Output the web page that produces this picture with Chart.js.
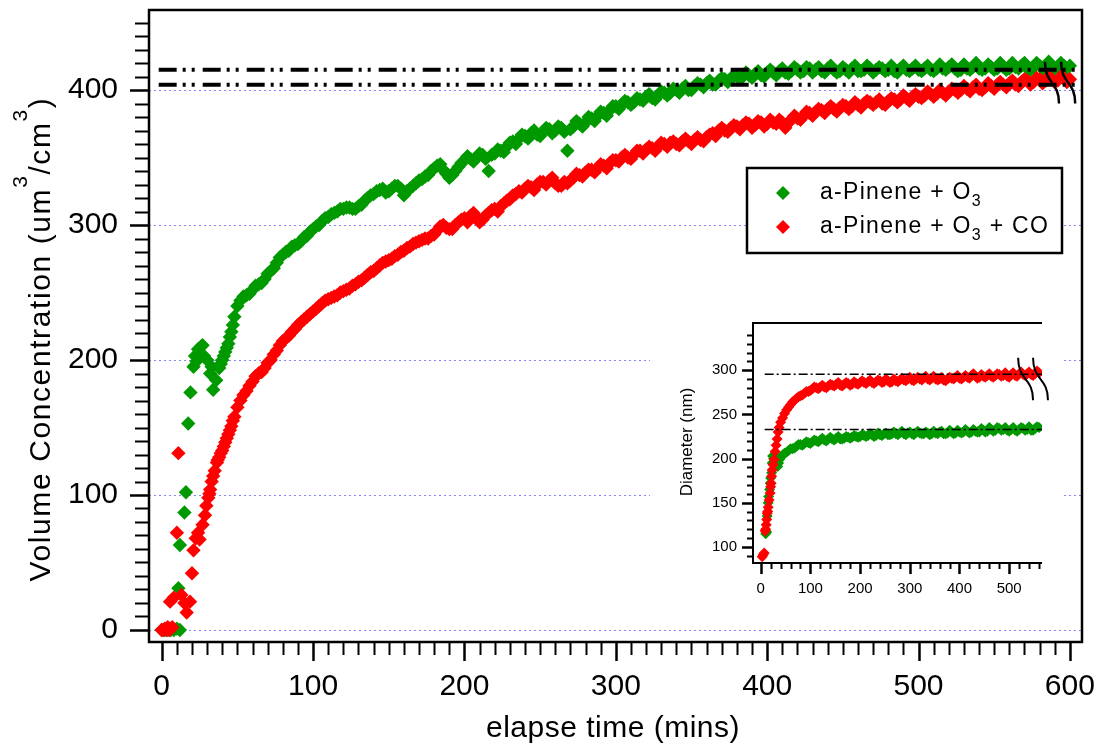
<!DOCTYPE html>
<html>
<head>
<meta charset="utf-8">
<title>Volume concentration vs elapse time</title>
<script src="https://cdn.jsdelivr.net/npm/chart.js@4.4.1/dist/chart.umd.min.js"></script>
<style>
  html, body { margin: 0; padding: 0; background: #fff; }
  #wrap { position: relative; width: 1100px; height: 746px; }
  #main { position: absolute; left: 0; top: 0; }
  #inset { position: absolute; left: 650px; top: 305px; background: #fff; }
</style>
</head>
<body>
<div id="wrap">
  <canvas id="main" width="1100" height="746"></canvas>
  <canvas id="inset" width="413" height="295"></canvas>
</div>
<script>
const FONT = '"Liberation Sans", Arial, sans-serif';
const GREEN = '#009900';
const RED = '#ff0000';

// ---- main plot : volume concentration (um3/cm3) vs elapse time (mins)
const xTickLabels = [0, 100, 200, 300, 400, 500, 600];
const yTickLabels = [0, 100, 200, 300, 400];
const plateaus = [415, 404];

// first minutes, irregular points
const greenEarlyT = [0, 2, 4, 6, 8, 10, 12, 11, 12, 15, 16, 17.5, 19, 21, 22, 23, 24, 25, 26, 27, 28, 30, 32, 33, 34, 36, 38, 39, 40, 41, 42, 43, 44, 45, 46, 47];
const greenEarlyV = [0, 0, 0, 0, 0, 1, 0, 31, 63, 87, 102, 153, 176, 195, 203, 199, 208, 205, 210, 211, 203, 200, 190, 195, 178, 185, 194, 197, 200, 203, 206, 209, 212, 217, 221, 226];
const redEarlyT = [0, 1, 2, 3, 4, 5, 6, 7, 5.5, 8, 10, 11, 13, 15, 16.5, 18.7, 20, 21, 22.5, 24, 25, 27, 28.6, 29.5, 30.8, 31.5, 32, 33, 34, 35, 36.5, 37, 38, 39, 40, 41, 42, 43, 44, 45, 46, 47];
const redEarlyV = [0, 0, 1, 0, 2, 0, 1, 2, 21, 24, 72, 131, 26, 20, 13, 21, 42, 59, 68, 72, 67, 78, 85, 92, 98, 101, 104, 110, 114, 118, 124, 126, 128, 131, 133, 136, 139, 142, 145, 148, 151, 155];

// rest of the run
const timeMain = [
  48, 52, 56, 60, 64, 68, 72, 76, 80, 84, 88, 92, 96, 100,
  104, 108, 112, 116, 120, 124, 128, 132, 136, 140, 144, 148, 152, 156, 160, 164, 168, 172, 176, 180, 184, 188, 192, 196, 200,
  204, 208, 212, 216, 220, 224, 228, 232, 236, 240, 244, 248, 252, 256, 260, 264, 268, 272, 276, 280, 284, 288, 292, 296, 300,
  304, 308, 312, 316, 320, 324, 328, 332, 336, 340, 344, 348, 352, 356, 360, 364, 368, 372, 376, 380, 384, 388, 392, 396, 400,
  404, 408, 412, 416, 420, 424, 428, 432, 436, 440, 444, 448, 452, 456, 460, 464, 468, 472, 476, 480, 484, 488, 492, 496, 500,
  504, 508, 512, 516, 520, 524, 528, 532, 536, 540, 544, 548, 552, 556, 560, 564, 568, 572, 576, 580, 584, 588, 592, 596, 600
];
const greenMain = [
  232, 244, 248, 252, 256, 260, 266, 272, 278, 281, 285, 288, 292, 297,
  300, 305, 308, 310, 312, 313, 312, 315, 320, 323, 326, 324, 327, 329, 322, 327, 331, 334, 337, 342, 345, 338, 337, 343, 348,
  349, 350, 352, 340, 353, 355, 358, 362, 364, 366, 368, 367, 369, 371, 370, 372, 355, 373, 375, 376, 379, 381, 383, 385, 388,
  389, 391, 391, 393, 395, 394, 396, 398, 398, 400, 401, 400, 403, 404, 405, 404, 407, 408, 408, 410, 410, 411, 412, 411, 413,
  413, 414, 413, 414, 415, 414, 416, 415, 414, 416, 415, 414, 415, 416, 414, 415, 416, 415, 416, 415, 414, 416, 415, 416, 415,
  416, 415, 416, 416, 417, 416, 415, 416, 417, 416, 416, 417, 416, 417, 416, 417, 418, 416, 417, 418, 417, 418, 417, 418, 418
];
const redMain = [
  158, 170, 177, 184, 190, 194, 200, 207, 214, 218, 223, 228, 232, 236,
  240, 244, 246, 248, 251, 253, 256, 259, 263, 266, 270, 273, 275, 278, 281, 284, 287, 289, 290, 293, 299, 298, 297, 302, 305,
  307, 305, 304, 309, 312, 314, 318, 322, 325, 327, 328, 330, 332, 333, 331, 329, 331, 335, 337, 339, 341, 342, 344, 346, 348,
  350, 350, 352, 355, 356, 357, 358, 360, 361, 360, 362, 362, 363, 363, 365, 368, 370, 370, 372, 373, 374, 375, 374, 376, 375,
  376, 378, 372, 378, 379, 381, 383, 384, 385, 386, 386, 387, 388, 388, 389, 390, 391, 391, 390, 392, 393, 393, 394, 395, 395,
  396, 397, 397, 398, 399, 400, 400, 401, 402, 401, 402, 403, 404, 404, 405, 404, 406, 407, 406, 408, 407, 408, 407, 409, 408
];
// extra samples in between (the instrument logged roughly every 2 min)
const timeMid = [50, 54, 58, 62, 66, 70, 74, 78, 82, 86, 90, 94, 98, 102, 106, 110, 114, 118, 122, 126, 130, 134, 138, 142, 146, 150, 154, 158, 162, 166, 170, 174, 178, 182, 186, 190, 194, 198];
const greenMid = [240, 247, 249, 255, 257, 264, 268, 276, 280, 284, 286, 291, 295, 299, 303, 306, 309, 312, 313, 312, 314, 318, 322, 325, 327, 325, 329, 327, 325, 329, 333, 336, 340, 344, 341, 335, 340, 346];
const redMid = [165, 174, 181, 188, 191, 198, 204, 211, 216, 221, 226, 230, 234, 238, 242, 245, 247, 250, 252, 255, 258, 261, 265, 268, 272, 274, 277, 280, 283, 286, 288, 290, 292, 296, 300, 297, 300, 304];
const timeLate = [
  202, 206, 210, 214, 218, 222, 226, 230, 234, 238, 242, 246, 250, 254, 258, 262, 266, 270, 274, 278, 282, 286, 290, 294, 298,
  302, 306, 310, 314, 318, 322, 326, 330, 334, 338, 342, 346, 350, 354, 358, 362, 366, 370, 374, 378, 382, 386, 390, 394, 398,
  402, 406, 410, 414, 418, 422, 426, 430, 434, 438, 442, 446, 450, 454, 458, 462, 466, 470, 474, 478, 482, 486, 490, 494, 498,
  502, 506, 510, 514, 518, 522, 526, 530, 534, 538, 542, 546, 550, 554, 558, 562, 566, 570, 574, 578, 582, 586, 590, 594, 598
];
const greenLate = [
  351, 347, 353, 349, 352, 356, 354, 361, 360, 367, 364, 370, 366, 372, 368, 373, 369, 371, 377, 373, 380, 377, 384, 381, 388,
  386, 392, 389, 394, 392, 397, 393, 399, 396, 401, 398, 403, 400, 405, 402, 407, 404, 409, 406, 411, 408, 413, 409, 414, 410,
  415, 411, 416, 412, 417, 413, 417, 413, 417, 413, 418, 413, 417, 413, 418, 414, 418, 413, 417, 414, 418, 413, 418, 414, 418,
  414, 418, 414, 419, 415, 419, 414, 419, 415, 420, 415, 419, 415, 420, 415, 420, 416, 420, 415, 420, 416, 421, 416, 420, 416
];
const redLate = [
  302, 309, 302, 307, 311, 310, 316, 319, 323, 324, 329, 326, 332, 330, 335, 329, 332, 333, 338, 336, 341, 339, 345, 342, 348,
  347, 352, 349, 355, 353, 358, 355, 361, 358, 362, 359, 364, 360, 365, 362, 367, 366, 372, 369, 374, 371, 376, 372, 377, 373,
  378, 375, 376, 376, 381, 378, 384, 381, 386, 383, 388, 384, 389, 386, 391, 387, 392, 389, 393, 389, 394, 391, 396, 392, 397,
  394, 399, 395, 400, 396, 401, 398, 403, 399, 404, 400, 405, 401, 406, 402, 407, 403, 408, 404, 409, 405, 410, 406, 410, 406
];

// ---- inset : diameter (nm) vs elapse time
const insetXTicks = [0, 100, 200, 300, 400, 500];
const insetYTicks = [100, 150, 200, 250, 300];
const insetPlateaus = [295.5, 233];

const insetGreenEarlyT = [10, 12, 13, 15, 16, 18, 19, 20, 22, 23, 24, 26, 28, 30, 32, 34, 36, 38];
const insetGreenEarlyV = [115, 117, 135, 150, 157, 165, 172, 178, 184, 195, 203, 200, 205, 198, 193, 191, 195, 199];
const insetRedEarlyT = [3, 5, 7, 9, 10, 11, 12, 13, 14, 15, 17, 19, 20, 21, 22, 23, 25, 27, 29, 31, 33, 35, 37];
const insetRedEarlyV = [89, 91, 93, 118, 120, 125, 131, 138, 140, 145, 153, 161, 168, 172, 180, 187, 193, 199, 208, 215, 222, 230, 235];

const timeInset = [
  40, 48, 56, 64, 72, 80, 88, 96, 104, 112,
  120, 128, 136, 144, 152, 160, 168, 176, 184, 192,
  200, 208, 216, 224, 232, 240, 248, 256, 264, 272,
  280, 288, 296, 304, 312, 320, 328, 336, 344, 352,
  360, 368, 376, 384, 392, 400, 408, 416, 424, 432,
  440, 448, 456, 464, 472, 480, 488, 496, 504, 512,
  520, 528, 536, 544, 552, 560
];
const insetGreen = [
  201, 206, 209, 211, 214, 216, 217, 218, 219, 220,
  221, 221, 222, 222, 223, 222, 223, 224, 224, 225,
  225, 226, 226, 227, 226, 227, 228, 227, 228, 228,
  229, 228, 229, 228, 229, 229, 228, 229, 228, 229,
  230, 228, 229, 230, 229, 230, 230, 231, 230, 231,
  230, 232, 231, 233, 232, 234, 233, 232, 233, 232,
  233, 234, 233, 232, 234, 235
];
const insetRed = [
  241, 251, 258, 264, 268, 271, 274, 276, 279, 280,
  281, 281, 282, 283, 284, 283, 284, 285, 284, 285,
  286, 286, 287, 286, 287, 288, 287, 288, 287, 288,
  289, 289, 290, 289, 290, 290, 291, 290, 291, 290,
  290, 289, 290, 291, 292, 291, 292, 292, 294, 293,
  292, 293, 294, 293, 294, 295, 294, 293, 295, 294,
  296, 295, 296, 295, 296, 297
];
const timeInsetMid = [
  44, 52, 60, 68, 76, 84, 92, 100, 108, 116, 124, 132, 140, 148, 156, 164, 172, 180, 188, 196,
  204, 212, 220, 228, 236, 244, 252, 260, 268, 276, 284, 292, 300, 308, 316, 324, 332, 340, 348, 356,
  364, 372, 380, 388, 396, 404, 412, 420, 428, 436, 444, 452, 460, 468, 476, 484, 492, 500, 508, 516,
  524, 532, 540, 548, 556
];
const insetGreenMid = [
  204, 207, 211, 212, 216, 215, 219, 217, 221, 219, 223, 220, 224, 221, 225, 222, 225, 223, 226, 224,
  227, 225, 228, 225, 229, 226, 229, 227, 230, 227, 231, 227, 230, 227, 231, 228, 230, 227, 231, 228,
  231, 228, 232, 228, 232, 229, 233, 229, 233, 230, 234, 230, 235, 231, 235, 232, 235, 231, 235, 231,
  235, 232, 236, 232, 236
];
const insetRedMid = [
  246, 255, 261, 266, 270, 272, 276, 277, 281, 279, 283, 280, 284, 282, 286, 282, 286, 283, 287, 284,
  288, 285, 289, 285, 289, 286, 290, 286, 290, 287, 291, 288, 292, 288, 292, 289, 293, 289, 293, 289,
  292, 288, 292, 290, 294, 290, 294, 291, 296, 291, 295, 292, 296, 292, 296, 293, 297, 292, 297, 293,
  298, 294, 298, 294, 299
];

const toPoints = (ts, vs) => ts.map((t, i) => ({ x: t, y: vs[i] }));

// little helpers for the hand drawn bits (ticks, breaks, rich text)
function tickMarks(ctx, scale, from, to, step, isMajor, majorLen, minorLen, edge, horizontal) {
  for (let v = from; v <= to + 1e-6; v += step) {
    const p = Math.round(scale.getPixelForValue(v)) + 0.5;
    const len = isMajor(v) ? majorLen : minorLen;
    ctx.lineWidth = isMajor(v) ? 2.5 : 2;
    ctx.beginPath();
    if (horizontal) { ctx.moveTo(p, edge); ctx.lineTo(p, edge + len); }
    else { ctx.moveTo(edge - len, p); ctx.lineTo(edge, p); }
    ctx.stroke();
  }
}

function breakMark(ctx, x0, y0, x1, y1) {
  const ym = (y0 + y1) / 2;
  ctx.beginPath();
  ctx.moveTo(x0, y0);
  ctx.bezierCurveTo(x0, ym + 2, x1, ym - 2, x1, y1);
  ctx.stroke();
}

function richText(ctx, parts, x, y, center) {
  let total = 0;
  parts.forEach(p => { ctx.font = p[1] + 'px ' + FONT; total += ctx.measureText(p[0]).width; });
  let cx = center ? x - total / 2 : x;
  parts.forEach(p => {
    ctx.font = p[1] + 'px ' + FONT;
    ctx.fillText(p[0], cx, y - p[2]);
    cx += ctx.measureText(p[0]).width;
  });
}

function diamond(ctx, x, y, r, color) {
  ctx.fillStyle = color;
  ctx.beginPath();
  ctx.moveTo(x - r, y); ctx.lineTo(x, y - r); ctx.lineTo(x + r, y); ctx.lineTo(x, y + r);
  ctx.closePath();
  ctx.fill();
}

// keep the plot frame where we put it: no extra room for overhanging labels
function fixBox(w, h) {
  return s => {
    if (w) s.width = w;
    if (h) s.height = h;
    s.paddingTop = 0; s.paddingBottom = 0; s.paddingLeft = 0; s.paddingRight = 0;
  };
}

const mainDecor = {
  id: 'mainDecor',
  beforeDatasetsDraw(chart) {
    const { ctx, chartArea: a, scales: { y } } = chart;
    ctx.save();
    ctx.strokeStyle = 'rgba(110,110,255,0.85)';
    ctx.lineWidth = 1;
    ctx.setLineDash([2, 3]);
    yTickLabels.forEach(v => {
      const py = Math.round(y.getPixelForValue(v)) + 0.5;
      ctx.beginPath(); ctx.moveTo(a.left, py); ctx.lineTo(a.right, py); ctx.stroke();
    });
    ctx.restore();
  },
  afterDatasetsDraw(chart) {
    const { ctx, scales: { x, y } } = chart;
    ctx.save();
    ctx.strokeStyle = '#000';
    // plateau lines (dash dot dot)
    ctx.lineWidth = 4;
    ctx.setLineDash([18, 6, 3, 6, 3, 8]);
    plateaus.forEach(v => {
      const py = y.getPixelForValue(v);
      ctx.beginPath(); ctx.moveTo(x.getPixelForValue(-2), py); ctx.lineTo(x.getPixelForValue(605), py); ctx.stroke();
    });
    ctx.setLineDash([]);
    // axis break marks
    ctx.lineWidth = 2.5;
    breakMark(ctx, x.getPixelForValue(583.5), y.getPixelForValue(421), x.getPixelForValue(592.8), y.getPixelForValue(390));
    breakMark(ctx, x.getPixelForValue(594.2), y.getPixelForValue(421), x.getPixelForValue(603.5), y.getPixelForValue(390));
    ctx.restore();
  },
  afterDraw(chart) {
    const { ctx, chartArea: a, scales: { x, y } } = chart;
    ctx.save();
    ctx.strokeStyle = '#000';
    ctx.lineWidth = 2.5;
    ctx.strokeRect(a.left, a.top, a.right - a.left, a.bottom - a.top);
    tickMarks(ctx, y, 0, 450, 10, v => v % 100 === 0, 18, 13, a.left - 1, false);
    tickMarks(ctx, x, 0, 600, 10, v => v % 100 === 0, 18, 12, a.bottom + 1, true);

    // legend
    ctx.fillStyle = '#fff';
    ctx.fillRect(747, 168, 315, 85);
    ctx.lineWidth = 2.5;
    ctx.strokeRect(747, 168, 315, 85);
    diamond(ctx, 783, 193, 7, GREEN);
    diamond(ctx, 783, 227, 7, RED);
    ctx.fillStyle = '#000';
    ctx.textBaseline = 'alphabetic';
    ctx.letterSpacing = '1.3px';
    richText(ctx, [['a-Pinene + O', 23, 0], ['3', 16, -7]], 820, 199, false);
    richText(ctx, [['a-Pinene + O', 23, 0], ['3', 16, -7], [' + CO', 23, 0]], 820, 233, false);

    // axis titles
    ctx.letterSpacing = '0.5px';
    richText(ctx, [['elapse time (mins)', 30, 0]], 613, 737, true);
    ctx.letterSpacing = '1.6px';
    ctx.translate(50, 339);
    ctx.rotate(-Math.PI / 2);
    richText(ctx, [['Volume Concentration (um', 30, 0], ['3', 21, 23], ['/cm', 30, 0], ['3', 21, 23], [')', 30, 0]], 0, 0, true);
    ctx.restore();
  }
};

const insetDecor = {
  id: 'insetDecor',
  afterDatasetsDraw(chart) {
    const { ctx, chartArea: a, scales: { x, y } } = chart;
    ctx.save();
    ctx.strokeStyle = '#000';
    ctx.lineWidth = 1.5;
    ctx.setLineDash([9, 3, 2, 3]);
    insetPlateaus.forEach(v => {
      const py = y.getPixelForValue(v);
      ctx.beginPath(); ctx.moveTo(x.getPixelForValue(8), py); ctx.lineTo(a.right, py); ctx.stroke();
    });
    ctx.setLineDash([]);
    ctx.lineWidth = 2;
    breakMark(ctx, x.getPixelForValue(518), y.getPixelForValue(314), x.getPixelForValue(548), y.getPixelForValue(266));
    breakMark(ctx, x.getPixelForValue(548), y.getPixelForValue(314), x.getPixelForValue(578), y.getPixelForValue(266));
    ctx.restore();
  },
  afterDraw(chart) {
    const { ctx, chartArea: a, scales: { x, y } } = chart;
    ctx.save();
    ctx.strokeStyle = '#000';
    ctx.lineWidth = 2;
    ctx.beginPath();
    ctx.moveTo(a.right, a.top); ctx.lineTo(a.left, a.top); ctx.lineTo(a.left, a.bottom); ctx.lineTo(a.right, a.bottom);
    ctx.stroke();
    tickMarks(ctx, y, 90, 340, 10, v => v % 50 === 0, 10, 5, a.left - 1, false);
    tickMarks(ctx, x, 0, 560, 20, v => v % 100 === 0, 10, 5, a.bottom + 1, true);
    ctx.fillStyle = '#000';
    ctx.textBaseline = 'middle';
    ctx.translate(37, 137);
    ctx.rotate(-Math.PI / 2);
    richText(ctx, [['Diameter (nm)', 17, 0]], 0, 0, true);
    ctx.restore();
  }
};

function axisOpts(min, max, ticks, size, pad, fitFn) {
  return {
    type: 'linear', min: min, max: max,
    grid: { display: false, drawTicks: false },
    border: { display: false },
    afterBuildTicks: s => { s.ticks = ticks.map(v => ({ value: v })); },
    afterFit: fitFn,
    ticks: { font: { family: FONT, size: size }, color: '#000', padding: pad, maxRotation: 0, autoSkip: false }
  };
}

new Chart(document.getElementById('main'), {
  type: 'scatter',
  data: {
    datasets: [
      {
        label: 'a-Pinene + O3 + CO',
        data: toPoints(redEarlyT, redEarlyV).concat(toPoints(timeMid, redMid), toPoints(timeMain, redMain), toPoints(timeLate, redLate)),
        backgroundColor: RED, order: 0
      },
      {
        label: 'a-Pinene + O3',
        data: toPoints(greenEarlyT, greenEarlyV).concat(toPoints(timeMid, greenMid), toPoints(timeMain, greenMain), toPoints(timeLate, greenLate)),
        backgroundColor: GREEN, order: 1
      }
    ]
  },
  options: {
    responsive: false, animation: false, events: [],
    layout: { padding: { top: 10, right: 18, left: 0, bottom: 0 } },
    elements: { point: { pointStyle: 'rectRot', radius: 7.2, hoverRadius: 7.2, borderWidth: 0 } },
    plugins: { legend: { display: false }, tooltip: { enabled: false } },
    scales: {
      x: axisOpts(-8.4, 608, xTickLabels, 30, 27, fixBox(0, 104)),
      y: axisOpts(-8.9, 459.3, yTickLabels, 30, 31, fixBox(149, 0))
    }
  },
  plugins: [mainDecor]
});

new Chart(document.getElementById('inset'), {
  type: 'scatter',
  data: {
    datasets: [
      {
        label: 'a-Pinene + O3 + CO',
        data: toPoints(insetRedEarlyT, insetRedEarlyV).concat(toPoints(timeInset, insetRed), toPoints(timeInsetMid, insetRedMid)),
        backgroundColor: RED, order: 0
      },
      {
        label: 'a-Pinene + O3',
        data: toPoints(insetGreenEarlyT, insetGreenEarlyV).concat(toPoints(timeInset, insetGreen), toPoints(timeInsetMid, insetGreenMid)),
        backgroundColor: GREEN, order: 1
      }
    ]
  },
  options: {
    responsive: false, animation: false, events: [],
    layout: { padding: { top: 18, right: 21, left: 0, bottom: 0 } },
    elements: { point: { pointStyle: 'rectRot', radius: 5.5, hoverRadius: 5.5, borderWidth: 0 } },
    plugins: { legend: { display: false }, tooltip: { enabled: false } },
    scales: {
      x: axisOpts(-15.5, 566, insetXTicks, 15, 17, fixBox(0, 37)),
      y: axisOpts(81.8, 353.4, insetYTicks, 15, 16, fixBox(103, 0))
    }
  },
  plugins: [insetDecor]
});
</script>
</body>
</html>
